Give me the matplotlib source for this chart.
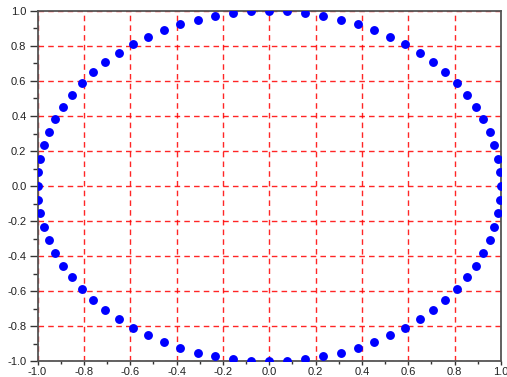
import numpy as np
import matplotlib.pyplot as plt
from matplotlib.ticker import MultipleLocator

# points on the unit circle, every 4.5 degrees
x = [1.000, 0.997, 0.988, 0.972, 0.951, 0.924, 0.891, 0.853, 0.809, 0.760,
     0.707, 0.649, 0.588, 0.522, 0.454, 0.383, 0.309, 0.233, 0.156, 0.078,
     0.000, -0.078, -0.156, -0.233, -0.309, -0.383, -0.454, -0.522, -0.588, -0.649,
     -0.707, -0.760, -0.809, -0.853, -0.891, -0.924, -0.951, -0.972, -0.988, -0.997,
     -1.000, -0.997, -0.988, -0.972, -0.951, -0.924, -0.891, -0.853, -0.809, -0.760,
     -0.707, -0.649, -0.588, -0.522, -0.454, -0.383, -0.309, -0.233, -0.156, -0.078,
     0.000, 0.078, 0.156, 0.233, 0.309, 0.383, 0.454, 0.522, 0.588, 0.649,
     0.707, 0.760, 0.809, 0.853, 0.891, 0.924, 0.951, 0.972, 0.988, 0.997]
y = [0.000, 0.078, 0.156, 0.233, 0.309, 0.383, 0.454, 0.522, 0.588, 0.649,
     0.707, 0.760, 0.809, 0.853, 0.891, 0.924, 0.951, 0.972, 0.988, 0.997,
     1.000, 0.997, 0.988, 0.972, 0.951, 0.924, 0.891, 0.853, 0.809, 0.760,
     0.707, 0.649, 0.588, 0.522, 0.454, 0.383, 0.309, 0.233, 0.156, 0.078,
     0.000, -0.078, -0.156, -0.233, -0.309, -0.383, -0.454, -0.522, -0.588, -0.649,
     -0.707, -0.760, -0.809, -0.853, -0.891, -0.924, -0.951, -0.972, -0.988, -0.997,
     -1.000, -0.997, -0.988, -0.972, -0.951, -0.924, -0.891, -0.853, -0.809, -0.760,
     -0.707, -0.649, -0.588, -0.522, -0.454, -0.383, -0.309, -0.233, -0.156, -0.078]
ticks = [-1.0, -0.8, -0.6, -0.4, -0.2, 0.0, 0.2, 0.4, 0.6, 0.8, 1.0]

plt.rcParams['font.family'] = ['Liberation Sans', 'DejaVu Sans']

fig = plt.figure(figsize=(5.07, 3.77), dpi=100)
ax = fig.add_axes([0.074, 0.042, 0.914, 0.929])

ax.plot(x, y, 'o', color='#0000ff', markersize=6.4, markeredgewidth=0, zorder=3)

ax.set_xlim(-1, 1)
ax.set_ylim(-1, 1)
ax.set_xticks(ticks)
ax.set_yticks(ticks)
ax.set_xticklabels(['%.1f' % t for t in ticks])
ax.set_yticklabels(['%.1f' % t for t in ticks])
ax.xaxis.set_minor_locator(MultipleLocator(0.1))
ax.yaxis.set_minor_locator(MultipleLocator(0.1))

ax.grid(True, which='major', color='#ff0000', linestyle=(0, (4, 3)),
        linewidth=1.0, alpha=0.85)

for s in ax.spines.values():
    s.set_color('#555555')
    s.set_linewidth(1.3)

ax.tick_params(which='major', direction='out', width=1, color='#333333',
               labelsize=8, labelcolor='#222222')
ax.tick_params(axis='y', which='major', length=6, pad=2)
ax.tick_params(axis='x', which='major', length=3, pad=1)
ax.tick_params(axis='y', which='minor', direction='out', length=3.5, width=1,
               color='#333333')
ax.tick_params(axis='x', which='minor', direction='out', length=2.5, width=1,
               color='#333333')
ax.tick_params(top=False, right=False)

fig.savefig('out.png', dpi=100)
